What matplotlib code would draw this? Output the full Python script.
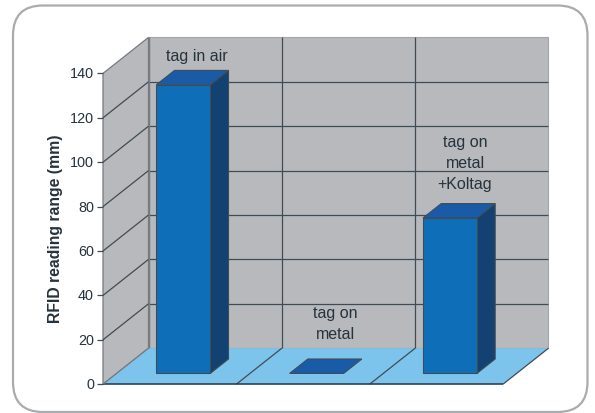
import matplotlib
matplotlib.use("Agg")
import matplotlib.pyplot as plt
from matplotlib.patches import FancyBboxPatch, Polygon
from matplotlib.transforms import Affine2D

labels = ["tag in air", "tag on\nmetal", "tag on\nmetal\n+Koltag"]
values = [130, 0, 70]
ticks = [0, 20, 40, 60, 80, 100, 120, 140]

WALL = "#b8b9bc"
FLOOR = "#7cc4ec"
FRONT = "#0f6eb8"
SIDE = "#134272"
TOP = "#1a5ba8"
GRID = "#3f4c55"
EDGE = "#767b80"
INK = "#26323c"

W, H = 595, 414
X0, Y0 = 103.0, 385.2          # pixel position of category 0, value 0
PX_X = 133.33                  # pixels per category
PX_Y = 2.22                    # pixels per mm
DEPTH_X, DEPTH_Y = 45.5, 36.0  # pixels from front to back of the box

plt.rcParams["font.family"] = ["Liberation Sans", "DejaVu Sans"]

fig = plt.figure(figsize=(W / 100, H / 100), dpi=100)
ax = fig.add_axes([0, 0, 1, 1])
ax.set_xlim(-X0 / PX_X, (W - X0) / PX_X)
ax.set_ylim(-(H - Y0) / PX_Y, Y0 / PX_Y)
ax.axis("off")


def proj(x, y, d=0.0):
    # oblique projection: depth d runs 0 (front) to 1 (back)
    return x + d * DEPTH_X / PX_X, y + d * DEPTH_Y / PX_Y


def px(x, y):
    return x / PX_X + ax.get_xlim()[0], (H - y) / PX_Y + ax.get_ylim()[0]


def face(points, color, edge=GRID, lw=0.8, z=3):
    ax.add_patch(Polygon(points, closed=True, facecolor=color, edgecolor=edge,
                         linewidth=lw, joinstyle="miter", zorder=z))


def line(p, q, color=GRID, lw=0.9, z=2):
    ax.plot([p[0], q[0]], [p[1], q[1]], color=color, lw=lw,
            solid_capstyle="butt", zorder=z)


# rounded frame around the chart
frame = FancyBboxPatch((13.0, 6.5), 574.5, 406.5, boxstyle="round,pad=0,rounding_size=30",
                       facecolor="white", edgecolor="#a9abae", linewidth=1.6, zorder=0)
frame.set_transform(Affine2D().scale(1, -1).translate(0, H))
fig.add_artist(frame)

top = ticks[-1]
n = len(values)

# box walls and floor
face([proj(0, 0, 1), proj(n, 0, 1), proj(n, top, 1), proj(0, top, 1)], WALL, "#a3a5a8", 0.8, 1)
face([proj(0, 0, 0), proj(0, 0, 1), proj(0, top, 1), proj(0, top, 0)], WALL, EDGE, 0.9, 1)
face([proj(0, 0, 0), proj(n, 0, 0), proj(n, 0, 1), proj(0, 0, 1)], FLOOR, "none", 0, 1)

# gridlines at each tick
for t in ticks[1:-1]:
    line(proj(0, t, 0), proj(0, t, 1))
    line(proj(0, t, 1), proj(n, t, 1))
for i in range(1, n):
    line(proj(i, 0, 0), proj(i, 0, 1))
    line(proj(i, 0, 1), proj(i, top, 1))

# box edges
line(proj(0, 0, 0), proj(n, 0, 0), "#1d3a4c", 1.1)
line(proj(n, 0, 0), proj(n, 0, 1), GRID, 0.9)
line(proj(0, 0, 0), proj(0, 0, 1), EDGE, 0.9)
line(proj(0, 0, 1), proj(0, top, 1), EDGE, 1.0)

# tick marks and labels
tick_len = 6 / PX_X
for t in ticks:
    line((-tick_len, t), (0, t), GRID, 0.9)
    ax.text(-9 / PX_X, t, str(t), ha="right", va="center", fontsize=10.4, color=INK)

ax.text(*px(56, 229), "RFID reading range (mm)", rotation=90, ha="center", va="center",
        fontsize=11.3, fontweight="bold", color=INK)

# bars, from the near depth d0 to the far depth d1
bar_w = 0.405
d0, d1 = 0.3, 0.7
for i, v in enumerate(values):
    l = i + 0.5 - bar_w / 2
    r = l + bar_w
    if v > 0:
        face([proj(r, 0, d0), proj(r, 0, d1), proj(r, v, d1), proj(r, v, d0)], SIDE)
        face([proj(l, 0, d0), proj(r, 0, d0), proj(r, v, d0), proj(l, v, d0)], FRONT)
    face([proj(l, v, d0), proj(r, v, d0), proj(r, v, d1), proj(l, v, d1)], TOP)

# bar captions
for text, pos in zip(labels, [(196.5, 57), (335, 324.5), (465, 164)]):
    ax.text(*px(*pos), text, ha="center", va="center", fontsize=11.5, color=INK,
            linespacing=1.5, zorder=5)

fig.savefig("out.png", dpi=100)
